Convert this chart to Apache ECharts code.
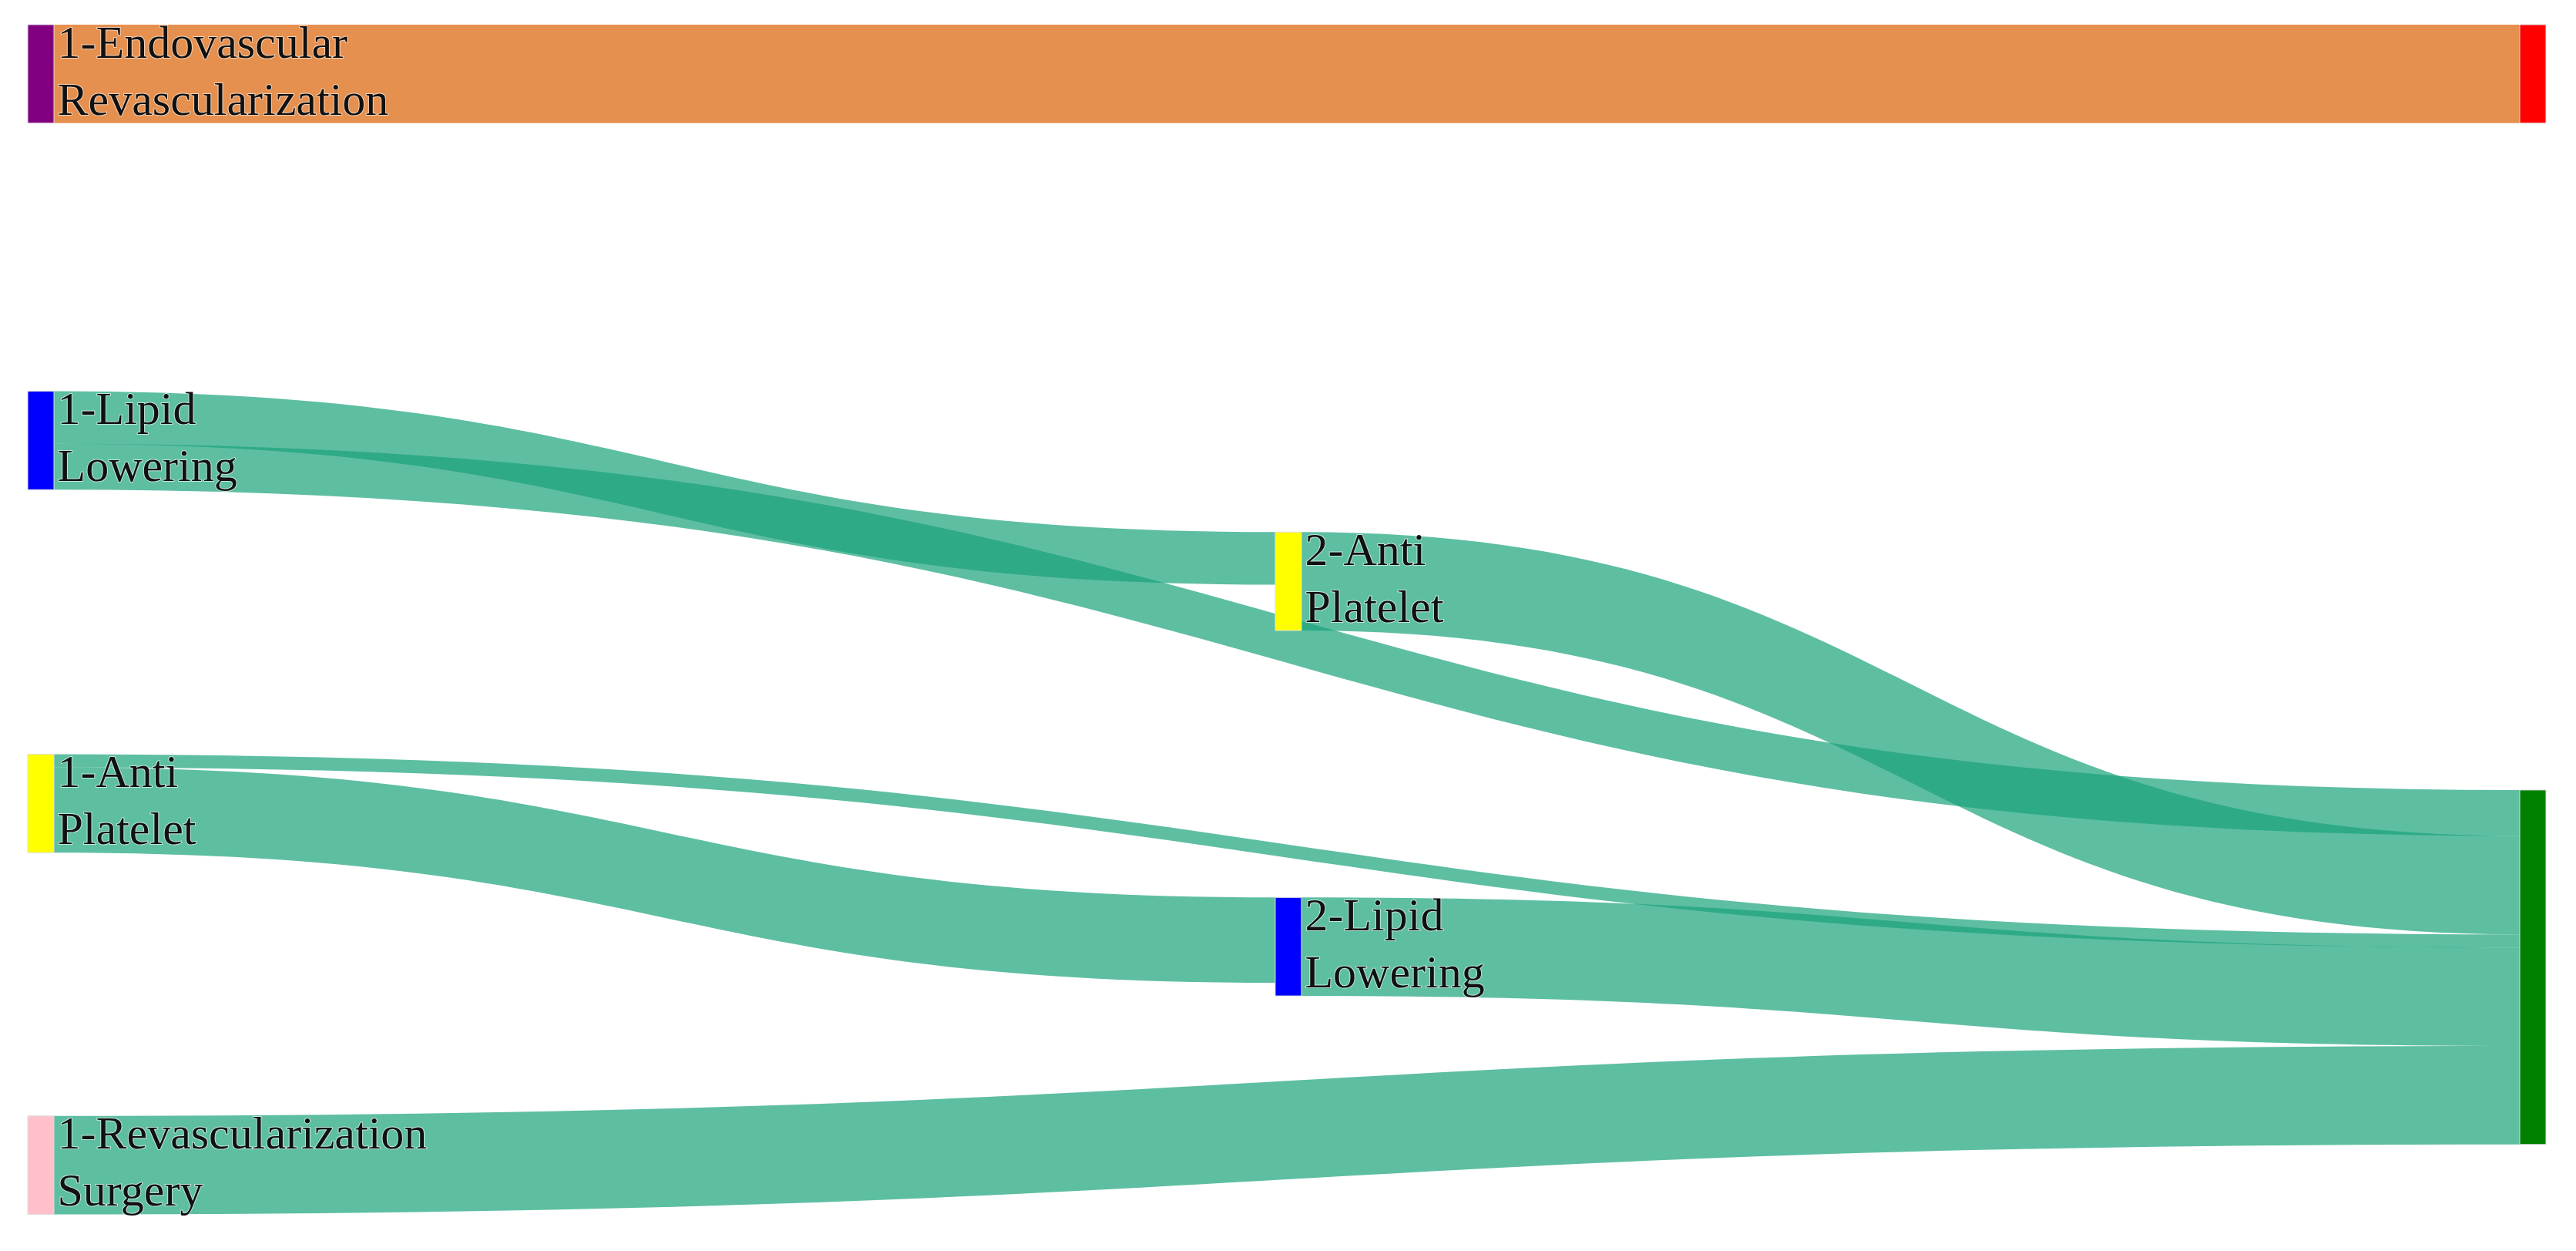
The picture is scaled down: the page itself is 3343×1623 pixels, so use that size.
<!DOCTYPE html>
<html>
<head>
<meta charset="utf-8">
<script src="https://cdn.jsdelivr.net/npm/echarts@6/dist/echarts.min.js"></script>
<style>html,body{margin:0;background:#fff}#chart{width:3343px;height:1623px}</style>
</head>
<body>
<div id="chart"></div>
<script>
// nodes (the last two are invisible spacers that only steer the link stacking order)
var nodeNames = ['1-Endovascular Revascularization', '1-Lipid Lowering', '1-Anti Platelet', '1-Revascularization Surgery', 'spacer mid', '2-Anti Platelet', '2-Lipid Lowering', 'End A', 'spacer right', 'End B'];
var nodeColors = ['#800080', '#0000ff', '#ffff00', '#ffc0cb', 'rgba(0,0,0,0)', '#ffff00', '#0000ff', '#ff0000', 'rgba(0,0,0,0)', '#008000'];
var nodeDepth = [0, 0, 0, 0, 1, 1, 1, 2, 2, 2];
var nodeRaw = [0, 0, 0, 0, 90, 0, 0, 0, 10, 0];
var nodeX = [0, 0, 0, 0, 0.4954, 0.4954, 0.4954, 0.9896, 0.9896, 0.9896];
var nodeY = [0, 0.307, 0.611, 0.914, 0, 0.425, 0.731, 0, 0, 0.641];
var linkSource = [0, 1, 1, 5, 2, 2, 6, 3];
var linkTarget = [7, 5, 9, 9, 9, 6, 9, 9];
var linkValue = [60, 32, 28, 60, 8, 52, 60, 60];

var chart = echarts.init(document.getElementById('chart'));
var option = {
    animation: false,
    series: [{
        type: 'sankey',
        left: 36, right: 39, top: 32, bottom: 42,
        nodeWidth: 34,
        nodeGap: 346,
        layoutIterations: 0,
        draggable: false,
        data: nodeNames.map(function (n, i) {
            var spacer = n.indexOf('spacer') === 0;
            var item = {
                name: n, depth: nodeDepth[i], localX: nodeX[i], localY: nodeY[i],
                itemStyle: spacer ? { color: 'rgba(0,0,0,0)', borderWidth: 0 } : { color: nodeColors[i], borderColor: '#ddd', borderWidth: 1 },
                label: { show: i < 7 && !spacer }
            };
            if (nodeRaw[i]) item.value = nodeRaw[i];
            return item;
        }),
        links: linkSource.map(function (s, i) {
            return {
                source: nodeNames[s], target: nodeNames[linkTarget[i]], value: linkValue[i],
                lineStyle: s === 0 ? { color: '#e5904f', opacity: 1 } : { color: '#1aa37a', opacity: 0.7 }
            };
        }),
        lineStyle: { curveness: 0.5 },
        emphasis: { disabled: true },
        label: {
            position: 'right', distance: 4,
            fontFamily: 'Liberation Serif', fontSize: 60, lineHeight: 74, color: '#111',
            textBorderColor: 'rgba(255,255,255,0.6)', textBorderWidth: 2,
            formatter: function (p) { return p.name.replace(' ', '\n'); }
        }
    }]
};
chart.setOption(option);
</script>
</body>
</html>
